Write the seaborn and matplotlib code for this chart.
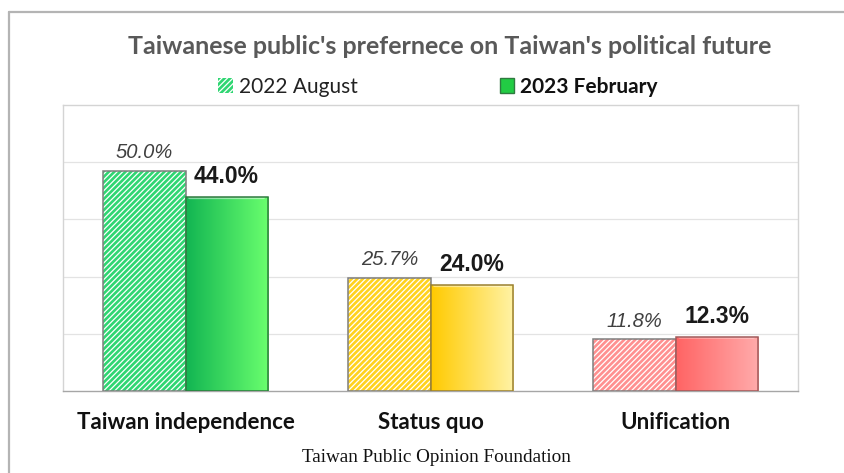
import numpy as np
import pandas as pd
import seaborn as sns
import matplotlib.pyplot as plt
import matplotlib.colors as mcolors
from matplotlib.lines import Line2D
from matplotlib.patches import Patch, Rectangle

############################## data ##############################

categories = ['Taiwan independence', 'Status quo', 'Unification']
periods = ['2022 August', '2023 February']
aug_2022 = [50.0, 25.7, 11.8]
feb_2023 = [44.0, 24.0, 12.3]

# colours per category: hatched face, gradient left, gradient right, edge
hatch_faces = ['#2fd672', '#ffd21f', '#ff9090']
grad_left = ['#12b552', '#ffca00', '#ff6464']
grad_right = ['#6aff6e', '#fff3a6', '#ffabab']
solid_edges = ['#2f7a3f', '#9a8030', '#a05a5a']

title = "Taiwanese public's prefernece on Taiwan's political future"
source = 'Taiwan Public Opinion Foundation'

############################## figure ##############################

sns.set_theme(style='white')
plt.rcParams['font.family'] = ['Lato', 'DejaVu Sans']
plt.rcParams['hatch.linewidth'] = 0.9

df = pd.DataFrame({
    'category': categories * 2,
    'period': [periods[0]] * 3 + [periods[1]] * 3,
    'value': aug_2022 + feb_2023,
})

fig = plt.figure(figsize=(8.44, 4.73), dpi=100)
ax = fig.add_axes([63 / 844, 1 - 391 / 473, 735 / 844, 286 / 473])

sns.barplot(data=df, x='category', y='value', hue='period', order=categories,
            hue_order=periods, width=0.67, palette=['#3ddc7c', '#12b552'],
            legend=False, ax=ax, zorder=3)

ax.set_ylim(0, 65)
ax.set_yticks([13, 26, 39, 52])
ax.set_yticklabels([])
ax.yaxis.grid(True, color='#e3e3e3', lw=0.9, zorder=0)
ax.set_xlabel('')
ax.set_ylabel('')

# hatched bars (first period): white hatch over coloured face, grey outline
for i, bar in enumerate(ax.containers[0]):
    bar.set_facecolor(hatch_faces[i])
    bar.set_edgecolor('white')
    bar.set_hatch('//////')
    bar.set_linewidth(0)
    ax.add_patch(Rectangle(bar.get_xy(), bar.get_width(), bar.get_height(),
                           fill=False, edgecolor='#7f7f7f', lw=1.1, zorder=4))
    ax.annotate(f'{aug_2022[i]:.1f}%', (bar.get_x() + bar.get_width() / 2, bar.get_height()),
                xytext=(0, 13), textcoords='offset points', ha='center', va='center',
                fontsize=14.5, style='italic', color='#404040', family='Liberation Sans')

# solid bars (second period): horizontal gradient clipped to the bar
for i, bar in enumerate(ax.containers[1]):
    bar.set_facecolor('none')
    bar.set_edgecolor(solid_edges[i])
    bar.set_linewidth(1.1)
    bar.set_zorder(5)
    x0, y0 = bar.get_xy()
    x1, y1 = x0 + bar.get_width(), y0 + bar.get_height()
    cmap = mcolors.LinearSegmentedColormap.from_list('g', [grad_left[i], grad_right[i]])
    im = ax.imshow(np.linspace(0, 1, 256).reshape(1, -1), cmap=cmap, aspect='auto',
                   extent=[x0, x1, y0, y1], origin='lower', zorder=4)
    im.set_clip_path(bar)
    # light bevel along the top edge
    ax.annotate('', xy=(x1, y1), xytext=(x0, y1), zorder=4.5,
                xycoords='data', textcoords='data',
                arrowprops=dict(arrowstyle='-', color='white', alpha=0.45, lw=2.5,
                                shrinkA=3, shrinkB=3))
    ax.annotate(f'{feb_2023[i]:.1f}%', ((x0 + x1) / 2, y1),
                xytext=(0, 15), textcoords='offset points', ha='center', va='center',
                fontsize=16.5, fontweight='bold', color='#1a1a1a', family='Liberation Sans')

ax.set_xlim(-0.5, 2.5)
ax.set_ylim(0, 65)

# axes frame and ticks
for side in ['top', 'left', 'right']:
    ax.spines[side].set_color('#d4d4d4')
    ax.spines[side].set_linewidth(1)
ax.spines['bottom'].set_color('#a6a6a6')
ax.spines['bottom'].set_linewidth(1)
ax.set_xticks([0.5, 1.5], minor=True)
ax.tick_params(axis='x', which='minor', direction='in', length=5, color='#a6a6a6', width=1)
ax.tick_params(axis='x', which='major', length=0, pad=15)
ax.tick_params(axis='y', length=0)
for lab in ax.get_xticklabels():
    lab.set_fontsize(16)
    lab.set_fontweight('bold')
    lab.set_color('#111111')

# title, legend, source
fig.text(0.533, 1 - 47 / 473, title, ha='center', va='center', fontsize=18,
         fontweight='bold', color='#595959')

handles = [
    Patch(facecolor='#2fd672', edgecolor='white', hatch='//////', lw=0),
    Patch(facecolor='#22cc44', edgecolor='#2f7a3f', lw=1),
]
leg = fig.legend(handles, periods, loc='center', bbox_to_anchor=(0.519, 1 - 87 / 473),
                 ncol=2, frameon=False, fontsize=15, handlelength=0.7, handleheight=0.7,
                 handletextpad=0.3, columnspacing=6.8)
leg.get_texts()[0].set_color('#222222')
leg.get_texts()[1].set_fontweight('bold')
leg.get_texts()[1].set_color('#111111')

fig.text(0.517, 1 - 457 / 473, source, ha='center', va='center', fontsize=13.8,
         family='Liberation Serif', color='#111111')

# outer frame (left and top edges only are visible)
fig.add_artist(Line2D([9 / 844, 9 / 844], [0, 1 - 12.5 / 473], transform=fig.transFigure,
                      color='#b4b4b4', lw=1.6))
fig.add_artist(Line2D([9 / 844, 1.0], [1 - 12.5 / 473, 1 - 12.5 / 473], transform=fig.transFigure,
                      color='#b4b4b4', lw=1.6))

fig.savefig('out.png', dpi=100, facecolor='white')
